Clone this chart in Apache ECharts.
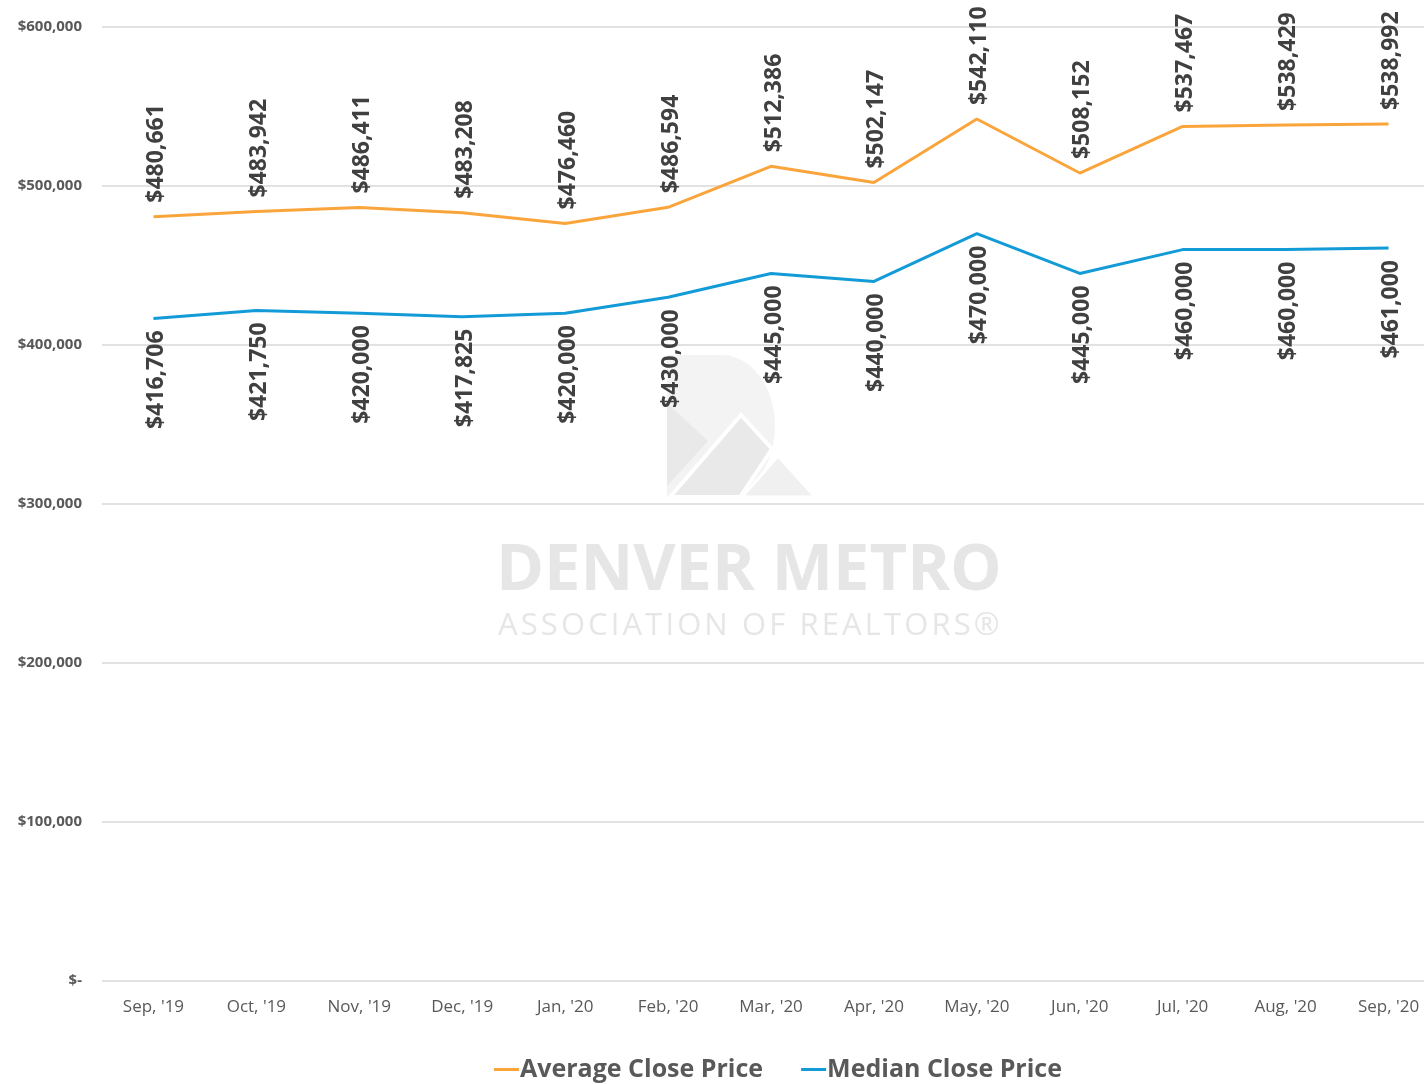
<!DOCTYPE html>
<html>
<head>
<meta charset="utf-8">
<title>Average and Median Close Price</title>
<script src="https://cdn.jsdelivr.net/npm/echarts@6/dist/echarts.min.js"></script>
<style>
  html, body { margin: 0; padding: 0; background: #ffffff; }
  #chart { width: 1424px; height: 1084px; }
</style>
</head>
<body>
<div id="chart"></div>
<script>
// data
var months = ["Sep, '19", "Oct, '19", "Nov, '19", "Dec, '19", "Jan, '20", "Feb, '20",
  "Mar, '20", "Apr, '20", "May, '20", "Jun, '20", "Jul, '20", "Aug, '20", "Sep, '20"];
var averageClose = [480661, 483942, 486411, 483208, 476460, 486594, 512386,
  502147, 542110, 508152, 537467, 538429, 538992];
var medianClose = [416706, 421750, 420000, 417825, 420000, 430000, 445000,
  440000, 470000, 445000, 460000, 460000, 461000];
var seriesNames = ["Average Close Price", "Median Close Price"];

var FONT = "'Open Sans', 'Noto Sans', sans-serif";

function money(v) {
  if (v === 0) return "$-";
  return "$" + v.toLocaleString("en-US");
}

// outline of the "D" in the watermark logo
function dShape() {
  var pts = [[667, 355], [722, 355]];
  for (var i = 1; i < 24; i++) {
    var a = -Math.PI / 2 + Math.PI * i / 24;
    pts.push([722 + 53 * Math.cos(a), 426 + 71 * Math.sin(a)]);
  }
  pts.push([722, 497], [667, 497]);
  return pts;
}

var chart = echarts.init(document.getElementById("chart"));

var valueLabel = {
  show: true,
  rotate: 90,
  verticalAlign: "middle",
  offset: [0, 3],
  color: "#404040",
  fontSize: 23,
  fontWeight: "bold",
  fontFamily: FONT,
  formatter: function (p) { return money(p.value); }
};

chart.setOption({
  backgroundColor: "#ffffff",
  animation: false,
  grid: {
    left: 102,
    width: 1338,
    top: 27,
    bottom: 103,
    outerBoundsMode: "none"
  },
  legend: {
    data: seriesNames,
    left: 489,
    top: 1052,
    icon: "rect",
    itemWidth: 25,
    itemHeight: 3,
    itemGap: 38,
    textStyle: {
      color: "#595959",
      fontSize: 25,
      fontWeight: "bold",
      fontFamily: FONT,
      padding: [0, 0, 0, -4]
    }
  },
  // watermark
  graphic: [
    {
      type: "polygon",
      silent: true,
      z: -10,
      shape: { points: dShape() },
      style: { fill: "#f3f3f3" }
    },
    {
      type: "polygon",
      silent: true,
      z: -10,
      shape: { points: [[667, 403], [708, 441], [667, 486]] },
      style: { fill: "#e9e9e9" }
    },
    {
      type: "polygon",
      silent: true,
      z: -10,
      shape: { points: [[670, 497], [741, 415], [772, 449], [740, 497]] },
      style: { fill: "#e9e9e9", stroke: "#ffffff", lineWidth: 4 }
    },
    {
      type: "polygon",
      silent: true,
      z: -10,
      shape: { points: [[778, 456], [815, 497], [742, 497]] },
      style: { fill: "#f0f0f0", stroke: "#ffffff", lineWidth: 3 }
    },
    {
      type: "text",
      silent: true,
      z: -10,
      left: 496,
      top: 539,
      style: {
        text: "DENVER METRO",
        fill: "#e6e6e6",
        font: "bold 65px 'Open Sans', 'Noto Sans', sans-serif"
      }
    },
    {
      type: "text",
      silent: true,
      z: -10,
      left: 498,
      top: 611,
      style: {
        text: "ASSOCIATION OF REALTORS®".split("").join("\u200A"),
        fill: "#e6e6e6",
        font: "31px 'Open Sans', 'Noto Sans', sans-serif"
      }
    }
  ],
  xAxis: {
    type: "category",
    data: months,
    boundaryGap: true,
    axisLine: { show: false },
    axisTick: { show: false },
    axisLabel: {
      color: "#595959",
      fontSize: 17,
      fontFamily: FONT,
      margin: 18,
      interval: 0
    }
  },
  yAxis: {
    type: "value",
    min: 0,
    max: 600000,
    interval: 100000,
    axisLine: { show: false },
    axisTick: { show: false },
    splitLine: { lineStyle: { color: "#d9d9d9", width: 1.5 } },
    axisLabel: {
      color: "#595959",
      fontSize: 15,
      fontWeight: "bold",
      fontFamily: FONT,
      margin: 20,
      formatter: money
    }
  },
  series: [
    {
      name: seriesNames[0],
      type: "line",
      data: averageClose,
      color: "#faa53c",
      showSymbol: true,
      symbol: "circle",
      symbolSize: 0,
      lineStyle: { width: 3 },
      label: Object.assign({}, valueLabel, {
        position: "top",
        distance: 14,
        align: "left"
      })
    },
    {
      name: seriesNames[1],
      type: "line",
      data: medianClose,
      color: "#139bd7",
      showSymbol: true,
      symbol: "circle",
      symbolSize: 0,
      lineStyle: { width: 3 },
      label: Object.assign({}, valueLabel, {
        position: "bottom",
        distance: 12,
        align: "right"
      })
    }
  ]
});
</script>
</body>
</html>
